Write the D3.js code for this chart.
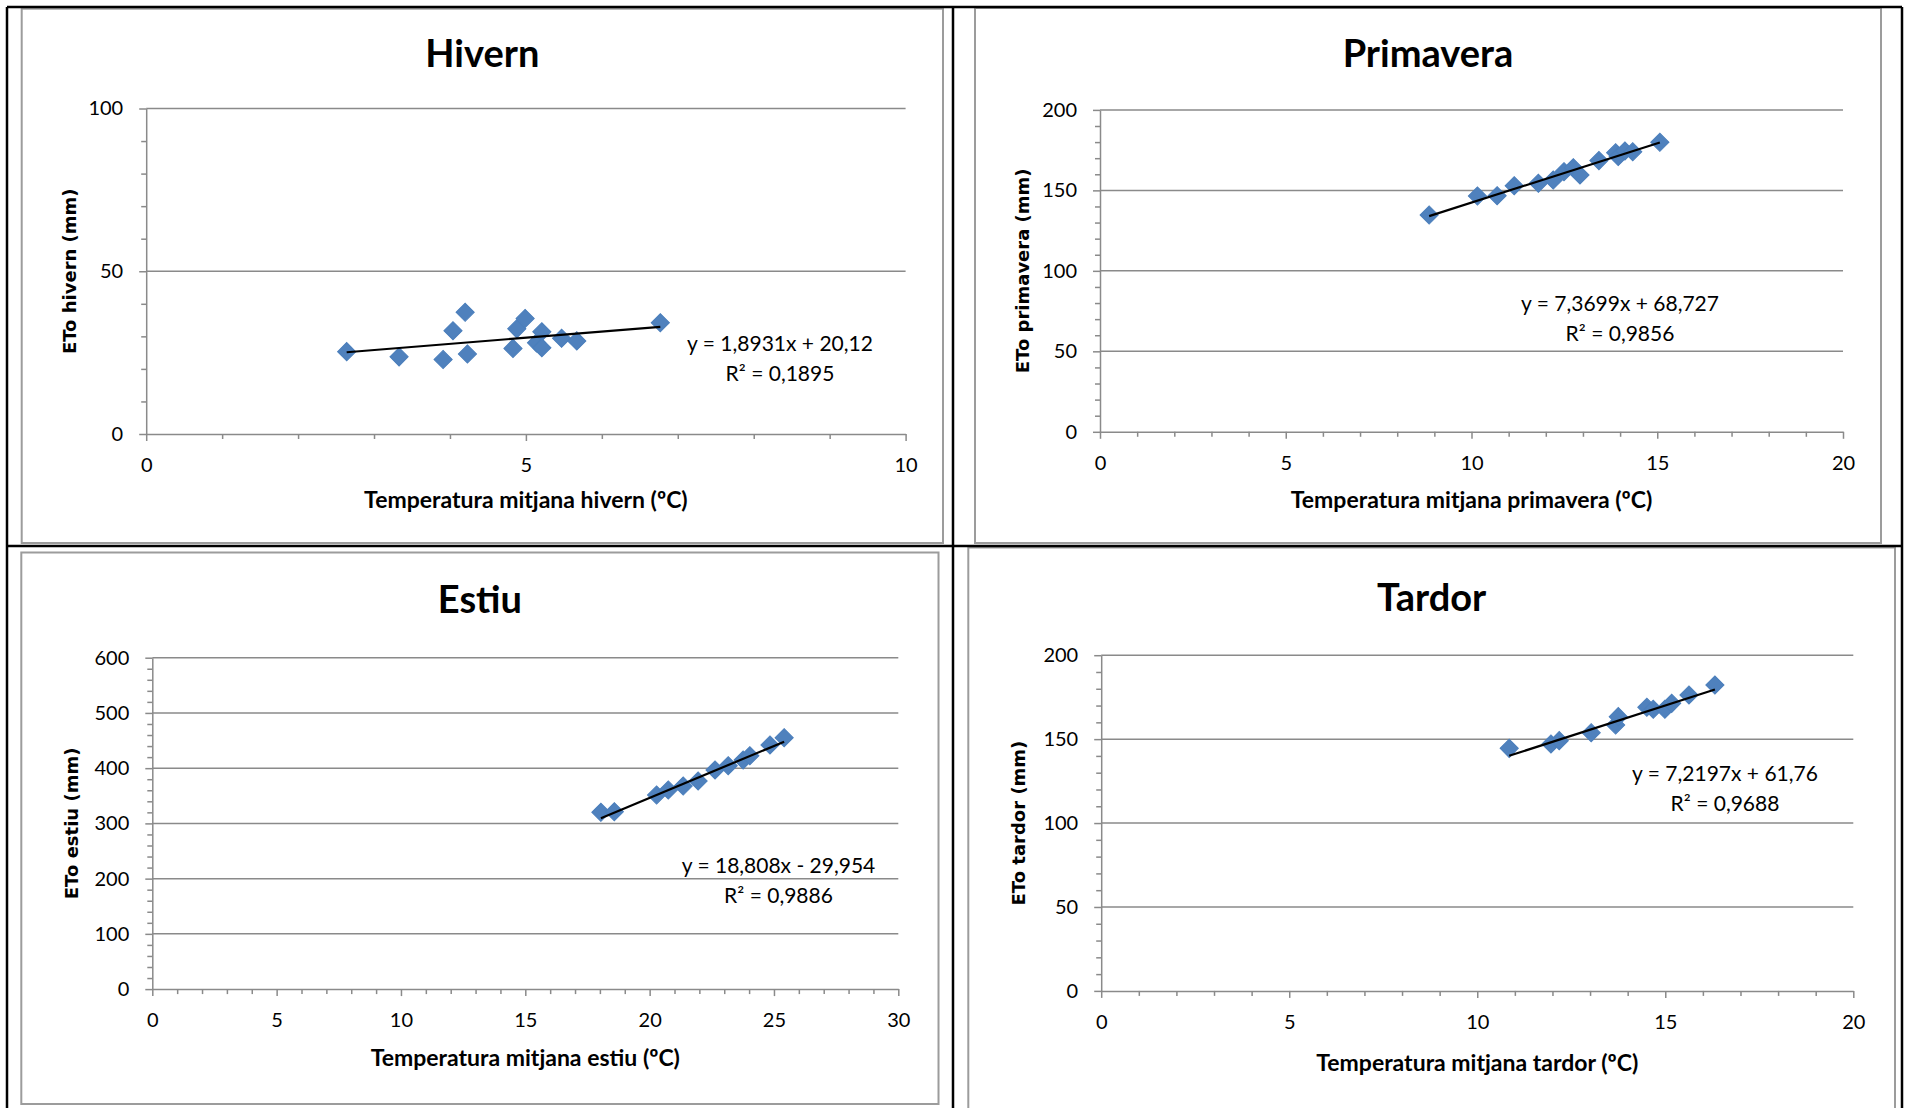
<!DOCTYPE html>
<html>
<head>
<meta charset="utf-8">
<script src="https://cdn.jsdelivr.net/npm/d3@7"></script>
<style>
  body { margin: 0; background: #fff; }
  text { font-family: Lato, sans-serif; fill: #000; }
</style>
</head>
<body>
<div class="charts"></div>
<script>
// values
const hivernTemp = [2.64, 3.33, 3.91, 4.04, 4.20, 4.23, 4.83, 4.88, 4.99, 5.14, 5.21, 5.21, 5.47, 5.67, 6.77];
const hivernEto  = [25.3, 23.7, 22.9, 31.7, 37.4, 24.6, 26.3, 32.3, 35.5, 28.0, 31.4, 26.5, 29.4, 28.6, 34.2];

const primaveraTemp = [8.86, 10.16, 10.69, 11.15, 11.80, 12.20, 12.49, 12.74, 12.92, 13.43, 13.88, 13.95, 14.13, 14.34, 15.07];
const primaveraEto  = [134.7, 146.5, 146.7, 152.9, 154.4, 156.4, 161.6, 164.1, 159.6, 168.5, 173.4, 171.0, 174.5, 174.0, 179.9];

const estiuTemp = [18.04, 18.58, 20.28, 20.75, 21.35, 21.95, 22.63, 23.16, 23.76, 24.03, 24.84, 25.41];
const estiuEto  = [320.1, 321.2, 351.4, 360.5, 367.7, 376.8, 396.7, 404.5, 414.8, 422.6, 442.0, 455.2];

const tardorTemp = [10.85, 11.96, 12.18, 13.03, 13.68, 13.75, 14.51, 14.68, 14.99, 15.17, 15.63, 16.32];
const tardorEto  = [144.5, 147.1, 149.1, 153.8, 158.4, 163.4, 169.0, 167.8, 167.8, 171.3, 176.3, 182.2];

// linear trend lines as printed on the charts
const hivernFit    = [1.8931, 20.12];
const primaveraFit = [7.3699, 68.727];
const estiuFit     = [18.808, -29.954];
const tardorFit    = [7.2197, 61.76];

const hivernEq    = ["y = 1,8931x + 20,12", "R² = 0,1895"];
const primaveraEq = ["y = 7,3699x + 68,727", "R² = 0,9856"];
const estiuEq     = ["y = 18,808x - 29,954", "R² = 0,9886"];
const tardorEq    = ["y = 7,2197x + 61,76", "R² = 0,9688"];

const W = 1910, H = 1108;

const svg = d3.select(".charts")
  .append("svg")
    .attr("width", W)
    .attr("height", H);

const panels = [
  {title: "Hivern", xs: hivernTemp, ys: hivernEto, fit: hivernFit, eq: hivernEq,
   xLabel: "Temperatura mitjana hivern (ºC)", yLabel: "ETo hivern (mm)",
   box: [21.7, 8.7, 943, 543], px: [146.2, 905.6], py: [434, 108.5],
   xMax: 10, yMax: 100, xMaj: 5, xMin: 1, yMaj: 50, yMin: 10,
   titleY: 67, xTitleY: 508, yTitleX: 75.5, eqX: 780, eqY: 351},
  {title: "Primavera", xs: primaveraTemp, ys: primaveraEto, fit: primaveraFit, eq: primaveraEq,
   xLabel: "Temperatura mitjana primavera (ºC)", yLabel: "ETo primavera (mm)",
   box: [975, 8, 1881, 543], px: [1100, 1843], py: [431.8, 109.9],
   xMax: 20, yMax: 200, xMaj: 5, xMin: 1, yMaj: 50, yMin: 10,
   titleY: 67, xTitleY: 508, yTitleX: 1029, eqX: 1620, eqY: 311},
  {title: "Estiu", xs: estiuTemp, ys: estiuEto, fit: estiuFit, eq: estiuEq,
   xLabel: "Temperatura mitjana estiu (ºC)", yLabel: "ETo estiu (mm)",
   box: [21.3, 552.5, 938.5, 1104], px: [152.3, 898.3], py: [989.1, 657.7],
   xMax: 30, yMax: 600, xMaj: 5, xMin: 1, yMaj: 100, yMin: 20,
   titleY: 613, xTitleY: 1066, yTitleX: 78, eqX: 778.5, eqY: 873},
  {title: "Tardor", xs: tardorTemp, ys: tardorEto, fit: tardorFit, eq: tardorEq,
   xLabel: "Temperatura mitjana tardor (ºC)", yLabel: "ETo tardor (mm)",
   box: [968.3, 547.5, 1895, 1120], px: [1101.2, 1853.3], py: [990.9, 655.2],
   xMax: 20, yMax: 200, xMaj: 5, xMin: 1, yMaj: 50, yMin: 10,
   titleY: 610.6, xTitleY: 1071, yTitleX: 1025, eqX: 1725, eqY: 781}
];

const gridColor = "#8a8a8a";

// black frame of the table holding the charts
const frame = [
  [7, 7, 1902, 7], [7, 546, 1902, 546],
  [7, 7, 7, H], [953, 7, 953, H], [1902, 7, 1902, H]
];

panels.forEach(drawPanel);

svg.append("g").selectAll("line")
  .data(frame)
  .enter()
  .append("line")
    .attr("x1", d => d[0]).attr("y1", d => d[1])
    .attr("x2", d => d[2]).attr("y2", d => d[3])
    .attr("stroke", "#000")
    .attr("stroke-width", 2.5);

function drawPanel(p)
{
  const g = svg.append("g");

  g.append("rect")
    .attr("x", p.box[0])
    .attr("y", p.box[1])
    .attr("width", p.box[2] - p.box[0])
    .attr("height", p.box[3] - p.box[1])
    .attr("fill", "#fff")
    .attr("stroke", "#9c9c9c")
    .attr("stroke-width", 2);

  const x = d3.scaleLinear().domain([0, p.xMax]).range(p.px);
  const y = d3.scaleLinear().domain([0, p.yMax]).range(p.py);

  const xMajor = d3.range(0, p.xMax + 1e-9, p.xMaj);
  const yMajor = d3.range(0, p.yMax + 1e-9, p.yMaj);
  const xMinor = d3.range(0, p.xMax + 1e-9, p.xMin).filter(v => Math.abs(v / p.xMaj - Math.round(v / p.xMaj)) > 1e-6);
  const yMinor = d3.range(0, p.yMax + 1e-9, p.yMin).filter(v => Math.abs(v / p.yMaj - Math.round(v / p.yMaj)) > 1e-6);

  // horizontal gridlines
  g.append("g").selectAll("line")
    .data(yMajor.filter(v => v > 0))
    .enter()
    .append("line")
      .attr("x1", p.px[0]).attr("x2", p.px[1])
      .attr("y1", d => y(d)).attr("y2", d => y(d))
      .attr("stroke", gridColor)
      .attr("stroke-width", 1.5);

  // Y axis
  g.append("g")
    .attr("transform", "translate(" + p.px[0] + ",0)")
    .call(d3.axisLeft(y).tickValues(yMajor).tickSize(7).tickSizeOuter(0).tickPadding(16));
  g.append("g")
    .attr("transform", "translate(" + p.px[0] + ",0)")
    .call(d3.axisLeft(y).tickValues(yMinor).tickSize(5).tickFormat(""))
    .select(".domain").remove();

  // X axis
  g.append("g")
    .attr("transform", "translate(0," + p.py[0] + ")")
    .call(d3.axisBottom(x).tickValues(xMajor).tickSize(7).tickSizeOuter(0).tickPadding(17));
  g.append("g")
    .attr("transform", "translate(0," + p.py[0] + ")")
    .call(d3.axisBottom(x).tickValues(xMinor).tickSize(5).tickFormat(""))
    .select(".domain").remove();

  g.selectAll(".domain, .tick line")
    .attr("stroke", gridColor)
    .attr("stroke-width", 1.5);
  g.selectAll(".tick text")
    .style("font-family", "Lato, sans-serif")
    .style("font-size", "20px")
    .attr("fill", "#000");

  // title
  g.append("text")
    .attr("x", (p.box[0] + p.box[2]) / 2)
    .attr("y", p.titleY)
    .attr("text-anchor", "middle")
    .style("font-size", "38px")
    .style("font-weight", "700")
    .text(p.title);

  // axis titles
  g.append("text")
    .attr("x", (p.px[0] + p.px[1]) / 2)
    .attr("y", p.xTitleY)
    .attr("text-anchor", "middle")
    .style("font-size", "23px")
    .style("font-weight", "700")
    .text(p.xLabel);

  g.append("text")
    .attr("transform", "translate(" + p.yTitleX + "," + (p.py[0] + p.py[1]) / 2 + ") rotate(-90)")
    .attr("text-anchor", "middle")
    .style("font-family", "'DejaVu Sans', Verdana, sans-serif")
    .style("font-size", "18px")
    .style("font-weight", "700")
    .text(p.yLabel);

  // points
  g.append("g")
    .selectAll("path")
    .data(p.xs.map((v, i) => [v, p.ys[i]]))
    .enter()
    .append("path")
      .attr("d", d3.symbol().type(d3.symbolSquare).size(165))
      .attr("transform", d => "translate(" + x(d[0]) + "," + y(d[1]) + ") rotate(45)")
      .attr("fill", "#4f81bd")
      .attr("stroke", "#4a7ebb")
      .attr("stroke-width", 1);

  // trend line
  const ext = d3.extent(p.xs);
  g.append("line")
    .attr("x1", x(ext[0])).attr("y1", y(p.fit[0] * ext[0] + p.fit[1]))
    .attr("x2", x(ext[1])).attr("y2", y(p.fit[0] * ext[1] + p.fit[1]))
    .attr("stroke", "#000")
    .attr("stroke-width", 2.2);

  // equation
  g.append("g").selectAll("text")
    .data(p.eq)
    .enter()
    .append("text")
      .attr("x", p.eqX)
      .attr("y", (d, i) => p.eqY + i * 29.5)
      .attr("text-anchor", "middle")
      .style("font-size", "21px")
      .text(d => d);
}
</script>
</body>
</html>
